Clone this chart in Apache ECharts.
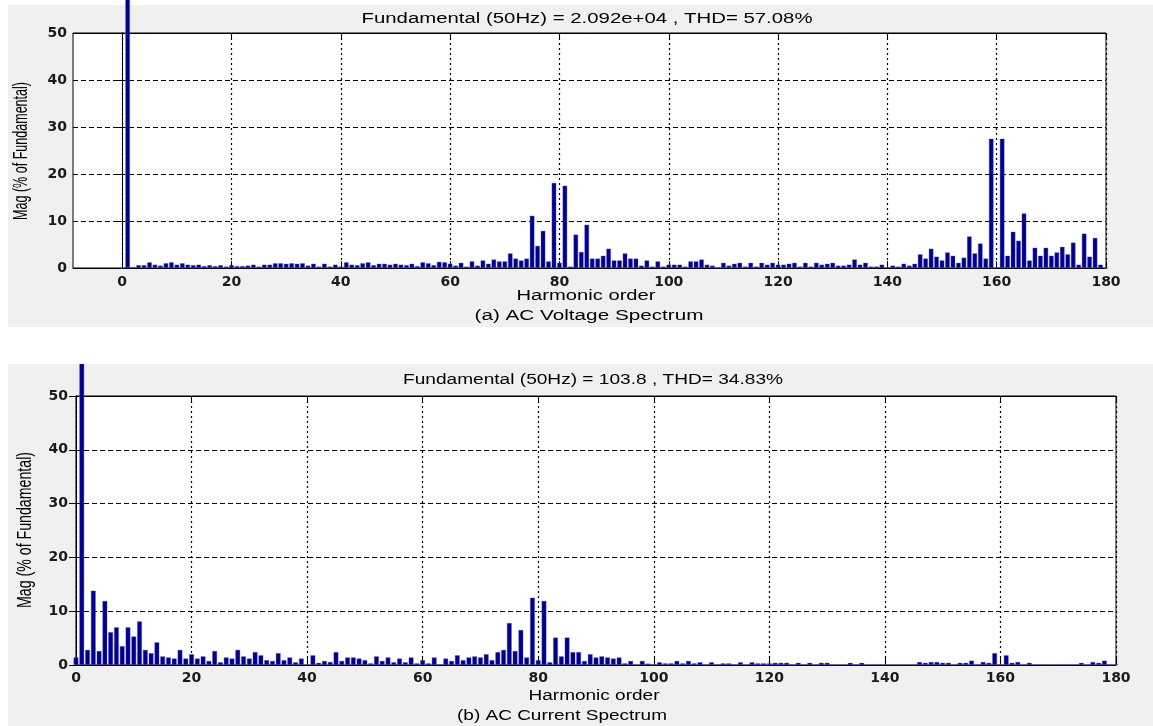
<!DOCTYPE html>
<html>
<head>
<meta charset="utf-8">
<script src="https://cdn.jsdelivr.net/npm/echarts@6/dist/echarts.min.js"></script>
<style>
html, body { margin: 0; padding: 0; background: #fff; }
#voltage { position: absolute; left: 0; top: 0; width: 1153px; height: 330px; }
#current { position: absolute; left: 0; top: 364px; width: 1153px; height: 362px; }
</style>
</head>
<body>
<div id="voltage"></div>
<div id="current"></div>
<script>
// harmonic order ticks and magnitudes (% of fundamental), index = harmonic order 0..180
var xTicks = [0, 20, 40, 60, 80, 100, 120, 140, 160, 180];

var voltageMag = [
    0, 100, 0.2, 0.6, 0.6, 1.2, 0.7, 0.5, 1.0, 1.2,
    0.7, 1.0, 0.7, 0.6, 0.7, 0.4, 0.6, 0.4, 0.6, 0.3,
    0.6, 0.4, 0.4, 0.5, 0.7, 0.3, 0.7, 0.7, 1.0, 1.0,
    0.9, 1.0, 0.9, 1.0, 0.5, 0.9, 0.3, 0.9, 0.3, 0.7,
    0.3, 1.2, 0.7, 0.6, 1.0, 1.2, 0.6, 0.9, 0.9, 0.7,
    0.9, 0.7, 0.6, 0.9, 0.4, 1.2, 1.0, 0.6, 1.3, 1.2,
    0.9, 0.5, 1.1, 0.3, 1.4, 0.5, 1.6, 0.9, 1.8, 1.4,
    1.4, 3.1, 2.0, 1.6, 2.0, 11.1, 4.7, 7.9, 1.4, 18.1,
    1.1, 17.5, 0.3, 7.1, 3.4, 9.2, 2.0, 2.0, 2.6, 4.1,
    1.6, 1.6, 3.1, 2.0, 2.0, 0.5, 1.6, 0.3, 1.4, 0.3,
    0.7, 0.7, 0.7, 0.3, 1.4, 1.4, 1.8, 0.7, 0.5, 0.15,
    1.1, 0.5, 0.9, 1.1, 0.3, 1.1, 0.3, 1.1, 0.7, 1.1,
    0.7, 0.7, 0.9, 1.1, 0.3, 1.1, 0.3, 1.1, 0.7, 0.9,
    1.1, 0.5, 0.5, 0.7, 1.8, 0.7, 1.1, 0.3, 0.3, 0.7,
    0.15, 0.5, 0.3, 0.9, 0.5, 0.9, 2.9, 2.0, 4.1, 2.4,
    1.6, 3.3, 2.6, 1.1, 2.2, 6.7, 3.1, 5.2, 2.0, 27.5,
    0.15, 27.5, 2.6, 7.7, 5.8, 11.6, 1.6, 4.3, 2.6, 4.3,
    2.6, 3.3, 4.5, 2.9, 5.4, 0.7, 7.3, 2.4, 6.4, 0.7,
    0
];

var currentMag = [
    1.4, 100, 2.8, 13.8, 2.6, 11.9, 6.1, 7.0, 3.5, 7.0,
    5.3, 8.1, 2.8, 2.2, 4.2, 1.6, 1.4, 1.2, 2.8, 1.2,
    2.0, 1.2, 1.6, 0.75, 2.6, 0.5, 1.4, 1.2, 2.8, 1.6,
    1.2, 2.4, 1.8, 0.9, 0.75, 2.2, 0.9, 1.4, 0.5, 1.2,
    0.1, 1.8, 0.4, 0.75, 0.55, 2.4, 0.75, 1.4, 1.4, 1.2,
    0.9, 0.3, 1.6, 0.75, 1.4, 0.5, 1.2, 0.5, 1.4, 0.3,
    0.9, 0.3, 1.4, 0.1, 1.2, 0.75, 1.8, 0.9, 1.4, 1.6,
    1.4, 2.0, 0.9, 2.4, 2.8, 7.8, 2.6, 6.5, 1.4, 12.5,
    0.9, 11.9, 0.5, 5.1, 1.6, 5.1, 2.4, 2.4, 0.75, 2.0,
    1.4, 1.6, 1.4, 1.2, 1.4, 0.3, 0.75, 0.1, 0.75, 0.25,
    0.1, 0.5, 0.3, 0.3, 0.75, 0.3, 0.75, 0.3, 0.5, 0.1,
    0.5, 0.1, 0.3, 0.3, 0.1, 0.5, 0.1, 0.5, 0.3, 0.3,
    0.3, 0.4, 0.4, 0.4, 0.1, 0.4, 0.1, 0.4, 0.1, 0.4,
    0.4, 0.1, 0.1, 0.1, 0.4, 0.1, 0.4, 0.1, 0.1, 0.1,
    0.1, 0.1, 0.1, 0.1, 0.1, 0.1, 0.55, 0.4, 0.55, 0.55,
    0.4, 0.4, 0.1, 0.4, 0.4, 0.8, 0.1, 0.55, 0.4, 2.2,
    0.1, 1.8, 0.4, 0.55, 0.1, 0.4, 0.1, 0.1, 0.1, 0.1,
    0.1, 0.1, 0.1, 0.1, 0.4, 0.1, 0.55, 0.4, 0.8, 0.1,
    0.1
];

var voltageTitle = 'Fundamental (50Hz) = 2.092e+04 , THD= 57.08%';
var currentTitle = 'Fundamental (50Hz) = 103.8 , THD= 34.83%';

// the original figure is stretched sideways, so texts get a horizontal scale
var measureCtx = document.createElement('canvas').getContext('2d');
function textWidth(str, size) {
    measureCtx.font = size + 'px "Liberation Sans"';
    return measureCtx.measureText(str).width;
}
function stretchedText(str, size, cx, cy, width) {
    return {
        type: 'text', x: cx, y: cy, z: 10,
        scaleX: width / textWidth(str, size),
        style: { text: str, fontSize: size, fontFamily: 'Liberation Sans', fill: '#000',
                 align: 'center', verticalAlign: 'middle' }
    };
}
function yName(size, cx, cy, length, thick) {
    var str = 'Mag (% of Fundamental)';
    return {
        type: 'text', x: cx, y: cy, z: 10, rotation: Math.PI / 2,
        scaleX: length / textWidth(str, size), scaleY: thick,
        style: { text: str, fontSize: size, fontFamily: 'Liberation Sans', fill: '#000',
                 align: 'center', verticalAlign: 'middle' }
    };
}

function spectrumOption(p) {
    var tickLabel = { fontFamily: 'DejaVu Sans', fontWeight: 'bold', fontSize: 14, color: '#1a1a1a' };
    return {
        animation: false,
        grid: { left: p.left, top: p.top, width: p.width, height: p.height,
                show: true, backgroundColor: '#fff', borderColor: '#000', borderWidth: 1 },
        xAxis: [{
            type: 'value', min: p.xMin, max: 180,
            axisLine: { show: true, onZero: false, lineStyle: { color: '#000' } },
            axisTick: { inside: true, length: 7, customValues: xTicks, lineStyle: { color: '#000' } },
            axisLabel: Object.assign({ customValues: xTicks, margin: p.xMargin }, tickLabel),
            splitLine: { show: true, lineStyle: { color: '#000', width: 1.2, type: [2, 3] } }
        }, {
            type: 'value', position: 'top', min: p.xMin, max: 180,
            axisLine: { show: true, onZero: false, lineStyle: { color: '#000' } },
            axisTick: { inside: true, length: 7, customValues: xTicks, lineStyle: { color: '#000' } },
            axisLabel: { show: false },
            splitLine: { show: false }
        }],
        yAxis: [{
            type: 'value', min: 0, max: 50, interval: 10,
            axisLine: { show: true, lineStyle: { color: '#000' } },
            axisTick: { show: true, inside: true, length: 7, lineStyle: { color: '#000' } },
            axisLabel: Object.assign({ margin: p.yMargin }, tickLabel),
            splitLine: { show: true, lineStyle: { color: '#000', width: 1.2, type: [5, 3] } }
        }, {
            type: 'value', position: 'right', min: 0, max: 50, interval: 10,
            axisLine: { show: true, lineStyle: { color: '#000' } },
            axisTick: { show: true, inside: true, length: 7, lineStyle: { color: '#000' } },
            axisLabel: { show: false },
            splitLine: { show: false }
        }],
        graphic: p.graphic,
        series: [{
            type: 'bar', xAxisIndex: 0, yAxisIndex: 0,
            clip: false,
            barWidth: p.barWidth,
            itemStyle: { color: '#00008b', borderColor: '#5a5ac8', borderWidth: 0.4 },
            data: p.values.map(function (v, i) { return [i, v]; })
        }]
    };
}

var voltageChart = echarts.init(document.getElementById('voltage'));
voltageChart.setOption(spectrumOption({
    left: 73, top: 33, width: 1033, height: 235, xMin: -9,
    xMargin: 7, yMargin: 6, barWidth: 4.5,
    values: voltageMag,
    graphic: [
        { type: 'rect', z: -100, silent: true, shape: { x: 8, y: 5, width: 1145, height: 322 },
          style: { fill: '#f0f0f0' } },
        stretchedText(voltageTitle, 14, 587, 19, 451),
        stretchedText('Harmonic order', 14, 586, 296, 139),
        stretchedText('(a) AC Voltage Spectrum', 14, 589, 316, 229),
        yName(13, 22, 151, 138, 1.5)
    ]
}));

var currentChart = echarts.init(document.getElementById('current'));
currentChart.setOption(spectrumOption({
    left: 76, top: 32, width: 1040, height: 269, xMin: 0,
    xMargin: 6, yMargin: 8, barWidth: 4.7,
    values: currentMag,
    graphic: [
        { type: 'rect', z: -100, silent: true, shape: { x: 8, y: 0, width: 1145, height: 362 },
          style: { fill: '#f0f0f0' } },
        stretchedText(currentTitle, 14, 593, 16, 380),
        stretchedText('Harmonic order', 14, 594, 332, 131),
        stretchedText('(b) AC Current Spectrum', 14, 562, 352, 210),
        yName(14, 26, 166, 156, 1.4)
    ]
}));
</script>
</body>
</html>
